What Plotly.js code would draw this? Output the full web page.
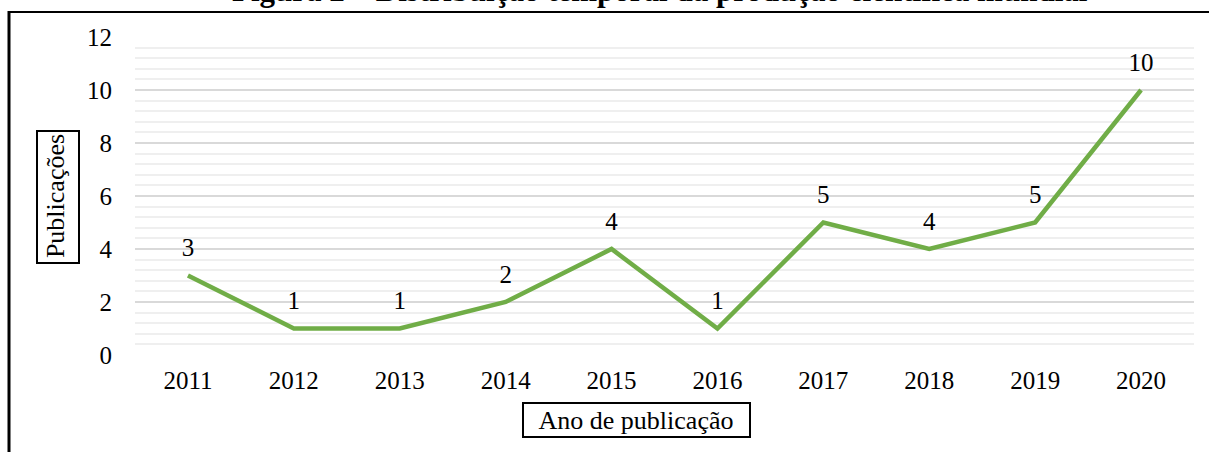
<!DOCTYPE html>
<html>
<head>
<meta charset="utf-8">
<script src="https://cdn.plot.ly/plotly-3.0.1.min.js"></script>
<style>html,body{margin:0;padding:0;background:#fff;}#chart{width:1209px;height:452px;}</style>
</head>
<body>
<div id="chart"></div>
<script>
const years = ['2011','2012','2013','2014','2015','2016','2017','2018','2019','2020'];
const publicacoes = [3, 1, 1, 2, 4, 1, 5, 4, 5, 10];
const yTicks = [0, 2, 4, 6, 8, 10, 12];
const chartTitle = 'Figura 2 – Distribuição temporal da produção científica mundial';
const xTitle = 'Ano de publicação';
const yTitle = 'Publicações';

const serif = '"Times New Roman", "Liberation Serif", serif';
const W = 1209, H = 452;
const L = 135, R = 15, T = 37, B = 97;
const pw = W - L - R, ph = H - T - B;
const px = x => (x - L) / pw;
const py = y => (H - B - y) / ph;

const trace = {
  x: years, y: publicacoes, type: 'scatter', mode: 'lines+markers+text',
  text: publicacoes.map(String), textposition: 'top center',
  textfont: {family: serif, size: 25, color: '#000'},
  marker: {size: 19, color: 'rgba(0,0,0,0)', line: {width: 0}},
  line: {color: '#70ad47', width: 4.5}, hoverinfo: 'x+y'
};

const layout = {
  width: W, height: H,
  margin: {l: L, r: R, t: T, b: B},
  paper_bgcolor: '#fff', plot_bgcolor: '#fff',
  showlegend: false,
  font: {family: serif, color: '#000'},
  title: {
    text: xTitle, xref: 'container', yref: 'container',
    x: 636 / W, y: 1 - 420 / H, xanchor: 'center', yanchor: 'middle',
    font: {family: serif, size: 26, color: '#000'}
  },
  xaxis: {
    type: 'category', range: [-0.5, 9.5], showgrid: false, zeroline: false,
    showline: false, ticks: '', ticklabelstandoff: 8,
    tickfont: {family: serif, size: 25, color: '#000'}
  },
  yaxis: {
    range: [0, 12], tickvals: yTicks, showgrid: true, gridcolor: '#d9d9d9', gridwidth: 2,
    zeroline: false, showline: false, ticks: '', ticklabelstandoff: 22,
    tickfont: {family: serif, size: 25, color: '#000'},
    minor: {dtick: 0.4, tick0: 0, showgrid: true, gridcolor: '#efefef', gridwidth: 2},
    title: {text: yTitle, standoff: 14, font: {family: serif, size: 26, color: '#000'}}
  },
  annotations: [
    {xref: 'paper', yref: 'paper', x: px(660), y: py(10), xanchor: 'center', yanchor: 'bottom',
     text: '<b>' + chartTitle + '</b>', showarrow: false,
     font: {family: serif, size: 31, color: '#000'}}
  ],
  shapes: [
    {type: 'line', xref: 'paper', yref: 'paper', x0: px(9), x1: px(9), y0: py(11), y1: py(452),
     line: {color: '#000', width: 3}},
    {type: 'line', xref: 'paper', yref: 'paper', x0: px(8), x1: px(1209), y0: py(12), y1: py(12),
     line: {color: '#000', width: 2}},
    {type: 'rect', xref: 'paper', yref: 'paper', x0: px(37), x1: px(79), y0: py(263), y1: py(131),
     line: {color: '#000', width: 2}, fillcolor: 'rgba(0,0,0,0)'},
    {type: 'rect', xref: 'paper', yref: 'paper', x0: px(523), x1: px(750), y0: py(437), y1: py(403),
     line: {color: '#000', width: 2}, fillcolor: 'rgba(0,0,0,0)'}
  ]
};

Plotly.newPlot('chart', [trace], layout, {displayModeBar: false, staticPlot: true});
</script>
</body>
</html>
